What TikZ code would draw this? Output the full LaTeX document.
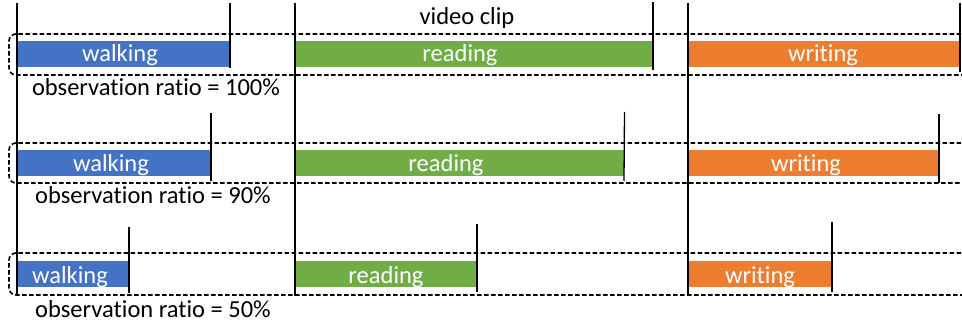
\documentclass[tikz,border=0pt]{standalone}
\usepackage{fontspec}
\setmainfont[Ligatures=NoCommon]{Carlito}
\definecolor{cblue}{HTML}{4472C4}
\definecolor{cgreen}{HTML}{70AD47}
\definecolor{corange}{HTML}{ED7D31}
\begin{document}
\begin{tikzpicture}[x=1pt,y=-1pt,
  barbox/.style={draw=none,inner sep=0pt,outer sep=0pt,minimum height=26pt},
  bartext/.style={anchor=base,text=white,inner sep=0pt,font=\fontsize{24.5}{28}\selectfont},
  caption/.style={anchor=base,text=black,inner sep=0pt,font=\fontsize{24.5}{28}\selectfont},
  frame/.style={line width=1.6pt,dash pattern=on 4.5pt off 2.5pt,rounded corners=7pt},
  tick/.style={line width=1.3pt,black}]
\path[use as bounding box,clip] (0,0) rectangle (962,326);
\fill[white] (0,0) rectangle (962,326);
% row 1
\node[barbox,fill=cblue,minimum width=213pt] (w1) at (123.5,54) {};
\node[barbox,fill=cgreen,minimum width=358pt] (r1) at (474,54) {};
\node[barbox,fill=corange,minimum width=272pt] (o1) at (824,54) {};
% row 2
\node[barbox,fill=cblue,minimum width=194pt] (w2) at (114,163) {};
\node[barbox,fill=cgreen,minimum width=329pt] (r2) at (459.5,163) {};
\node[barbox,fill=corange,minimum width=251pt] (o2) at (813.5,163) {};
% row 3
\node[barbox,fill=cblue,minimum width=112pt] (w3) at (73,274) {};
\node[barbox,fill=cgreen,minimum width=182pt] (r3) at (386,274) {};
\node[barbox,fill=corange,minimum width=144pt] (o3) at (760,274) {};
% frames
\draw[frame] (975,34) -- (9,34) -- (9,75) -- (975,75);
\draw[frame] (975,143) -- (9,143) -- (9,183) -- (975,183);
\draw[frame] (975,253) -- (9,253) -- (9,295) -- (975,295);
% long lines
\draw[tick] (17,3) -- (17,296);
\draw[tick] (295,3) -- (295,296);
\draw[tick] (688,3) -- (688,296);
% end ticks
\draw[tick] (w1.south east) ++(0,1) -- (230,3);
\draw[tick] (r1.south east) ++(0,3) -- (653,2);
\draw[tick] (o1.south east) ++(0,5) -- (960,3);
\draw[tick] (w2.south east) ++(0,5) -- (211,113);
\draw[tick] (r2.south east) ++(0,5) -- (624.5,112);
\draw[tick] (o2.south east) ++(0,7) -- (939,114);
\draw[tick] (w3.south east) ++(0,6) -- (129,227);
\draw[tick] (r3.south east) ++(0,5) -- (477,224);
\draw[tick] (o3.south east) ++(0,5) -- (832,222);
% texts
\node[caption] (vc) at (467,25) {video clip};
\node[bartext] (tw1) at (120,62) {walking};
\node[bartext] (tr1) at (460,62) {reading};
\node[bartext] (to1) at (823,62) {writing};
\node[bartext] (tw2) at (111,171.5) {walking};
\node[bartext] (tr2) at (446,171.5) {reading};
\node[bartext] (to2) at (806,171.5) {writing};
\node[bartext] (tw3) at (70,283.5) {walking};
\node[bartext] (tr3) at (386,283.5) {reading};
\node[bartext] (to3) at (760,283.5) {writing};
\node[caption] (c1) at (156,96) {observation ratio = 100\%};
\node[caption] (c2) at (153,204) {observation ratio = 90\%};
\node[caption] (c3) at (153,317) {observation ratio = 50\%};
\end{tikzpicture}
\end{document}
